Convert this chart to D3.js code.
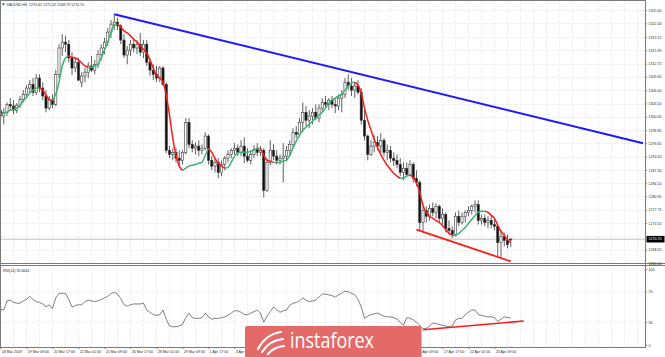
<!DOCTYPE html>
<html><head><meta charset="utf-8">
<script src="https://cdn.jsdelivr.net/npm/d3@7"></script>
<style>html,body{margin:0;padding:0;background:#fff;overflow:hidden}svg{display:block}</style>
</head><body><svg id="c" width="665" height="357"></svg>
<script>
// ---------------- DATA (XAUUSD, H4) ----------------
const open = [1301.6,1300.2,1301.1,1303.0,1302.6,1301.6,1302.8,1304.2,1305.4,1306.9,
1307.8,1305.9,1309.3,1306.9,1305.0,1302.1,1304.0,1303.0,1310.2,1316.5,
1317.9,1317.4,1314.1,1311.7,1313.1,1308.3,1309.8,1310.7,1312.2,1311.2,
1312.6,1315.0,1316.5,1317.9,1320.3,1322.2,1322.7,1321.8,1318.4,1314.8,
1316.0,1317.4,1316.5,1317.4,1315.5,1317.4,1313.1,1311.2,1310.2,1309.3,
1311.7,1307.8,1292.0,1291.0,1291.5,1290.1,1289.6,1291.5,1298.7,1293.4,
1292.5,1293.0,1292.0,1292.5,1295.4,1289.6,1288.2,1289.1,1286.7,1288.6,
1290.1,1291.0,1292.0,1292.5,1291.5,1293.0,1290.6,1289.6,1291.0,1292.2,
1291.5,1292.0,1282.4,1289.1,1292.0,1290.6,1289.6,1290.1,1290.6,1292.0,
1293.4,1296.3,1295.8,1298.7,1301.1,1299.2,1300.2,1301.1,1299.7,1302.1,
1303.5,1303.0,1304.0,1303.0,1302.6,1304.5,1305.4,1308.3,1307.4,1306.4,
1307.4,1305.9,1299.2,1295.4,1291.0,1293.0,1293.9,1293.0,1294.4,1291.5,
1292.0,1290.1,1289.6,1288.6,1286.7,1287.7,1286.2,1288.6,1285.3,1284.3,
1274.7,1277.6,1276.2,1278.1,1277.1,1278.6,1275.7,1276.6,1273.3,1272.8,
1271.8,1276.2,1274.7,1276.2,1277.1,1277.6,1278.6,1279.0,1275.2,1275.7,
1274.7,1275.2,1274.2,1273.8,1269.9,1271.4,1270.4,1270.62];
const high = [1303.0,1302.1,1303.5,1304.5,1304.0,1303.3,1305.0,1306.4,1307.6,1308.8,
1309.3,1310.2,1310.2,1308.3,1306.4,1305.0,1305.4,1311.2,1317.4,1319.8,
1319.4,1318.4,1315.5,1314.1,1314.1,1310.7,1311.7,1313.1,1314.6,1313.6,
1316.0,1317.4,1318.9,1321.3,1323.2,1324.6,1323.7,1322.2,1319.8,1317.0,
1318.4,1318.9,1318.4,1320.1,1318.4,1318.4,1314.1,1312.6,1312.2,1312.2,
1312.2,1308.3,1293.0,1292.5,1292.5,1292.0,1292.0,1299.7,1299.7,1294.4,
1293.9,1294.4,1293.4,1296.3,1295.8,1290.6,1290.1,1290.1,1289.6,1290.6,
1292.0,1292.5,1293.7,1293.4,1294.4,1295.1,1292.5,1292.0,1293.2,1293.7,
1293.0,1292.5,1290.1,1294.4,1293.4,1292.0,1291.0,1293.7,1293.0,1294.4,
1297.3,1297.8,1299.7,1303.5,1302.6,1301.6,1302.1,1303.0,1303.0,1304.5,
1305.0,1304.5,1305.0,1304.5,1305.4,1306.4,1309.3,1310.2,1309.3,1308.3,
1308.8,1306.9,1302.1,1295.8,1294.4,1295.6,1295.4,1296.1,1294.9,1293.4,
1293.0,1291.5,1291.0,1290.1,1289.1,1289.1,1289.6,1289.1,1287.2,1284.8,
1278.6,1278.6,1279.0,1279.5,1279.3,1279.0,1278.1,1277.1,1275.2,1273.8,
1277.1,1277.6,1277.1,1277.6,1278.6,1279.0,1280.0,1280.0,1276.6,1276.6,
1276.2,1276.2,1275.7,1274.2,1272.8,1272.3,1271.8,1271.02];
const low = [1299.2,1298.2,1300.2,1301.6,1300.6,1300.9,1302.1,1303.5,1304.5,1305.9,
1305.0,1305.2,1305.9,1304.0,1301.1,1301.6,1302.1,1302.6,1309.3,1314.6,
1315.5,1313.1,1310.0,1310.7,1308.6,1307.1,1308.3,1309.3,1310.7,1310.2,
1311.7,1313.6,1315.0,1317.0,1318.9,1320.8,1320.8,1317.4,1314.1,1312.6,
1314.6,1315.5,1315.0,1314.6,1314.1,1312.2,1309.8,1308.8,1308.3,1308.3,
1307.4,1291.3,1290.1,1289.6,1289.1,1288.2,1288.6,1291.0,1292.5,1291.5,
1291.0,1290.6,1291.0,1292.0,1288.6,1287.2,1286.7,1285.3,1285.8,1287.2,
1289.1,1290.1,1291.0,1290.6,1290.6,1288.9,1289.1,1288.6,1290.1,1290.6,
1290.6,1280.7,1282.0,1288.4,1289.6,1288.6,1288.6,1284.3,1289.6,1290.6,
1292.5,1294.9,1295.4,1296.3,1297.8,1297.3,1298.2,1299.2,1298.7,1301.1,
1302.1,1301.6,1302.1,1300.9,1301.6,1301.1,1304.5,1306.4,1305.0,1304.5,
1305.4,1298.2,1294.4,1289.6,1290.6,1291.5,1292.0,1291.5,1290.6,1289.6,
1289.1,1288.2,1287.7,1285.8,1284.8,1285.8,1285.8,1284.3,1283.4,1272.8,
1272.3,1274.7,1275.2,1276.2,1275.7,1274.7,1274.2,1272.3,1271.8,1270.9,
1271.4,1273.8,1274.2,1274.7,1276.2,1276.6,1277.1,1274.2,1274.2,1273.8,
1273.3,1273.3,1272.8,1266.3,1266.3,1269.0,1268.5,1268.79];
const close = [1300.2,1301.1,1303.0,1302.6,1301.6,1302.8,1304.2,1305.4,1306.9,1307.8,
1305.9,1309.3,1306.9,1305.0,1302.1,1304.0,1303.0,1310.2,1316.5,1317.9,
1317.4,1314.1,1311.7,1313.1,1308.8,1309.8,1310.7,1312.2,1311.2,1312.6,
1315.0,1316.5,1317.9,1320.3,1322.2,1322.7,1321.8,1318.4,1314.8,1316.0,
1317.4,1316.5,1317.4,1315.5,1317.4,1313.1,1311.2,1310.2,1309.3,1311.7,
1307.8,1292.0,1291.0,1291.5,1290.1,1289.6,1291.5,1298.7,1293.4,1292.5,
1293.0,1292.0,1292.5,1295.4,1289.6,1288.2,1289.1,1286.7,1288.6,1290.1,
1291.0,1292.0,1292.5,1291.5,1293.0,1290.6,1289.6,1291.0,1292.2,1291.5,
1292.0,1282.4,1289.1,1292.0,1290.6,1289.6,1290.1,1290.6,1292.0,1293.4,
1296.3,1295.8,1298.7,1301.1,1299.2,1300.2,1301.1,1299.7,1302.1,1303.5,
1303.0,1304.0,1303.0,1302.6,1304.5,1305.4,1308.3,1307.4,1306.4,1307.4,
1305.9,1299.2,1295.4,1291.0,1293.0,1293.9,1293.0,1294.4,1291.5,1292.0,
1290.1,1289.6,1288.6,1286.7,1287.7,1286.2,1288.6,1285.3,1284.3,1274.7,
1277.6,1276.2,1278.1,1277.1,1278.6,1275.7,1276.6,1273.3,1272.8,1271.8,
1276.2,1274.7,1276.2,1277.1,1277.6,1278.6,1279.0,1275.2,1275.7,1274.7,
1275.2,1274.2,1273.8,1269.9,1271.4,1270.4,1269.4,1270.70];
// moving average drawn green when rising, red when falling
const maLine = [1300.6,1300.9,1301.1,1301.6,1301.8,1302.1,1302.8,1303.8,1304.7,1305.7,
1306.4,1306.9,1306.9,1306.4,1305.2,1304.2,1304.0,1305.4,1308.3,1312.2,
1314.1,1314.6,1314.3,1314.1,1313.6,1312.9,1312.2,1311.9,1311.9,1312.2,
1312.6,1314.1,1316.0,1317.9,1320.3,1322.0,1322.2,1321.5,1320.6,1320.1,
1319.4,1318.6,1317.9,1317.0,1316.2,1315.3,1313.6,1311.7,1310.0,1309.3,
1308.3,1305.2,1300.4,1294.9,1290.8,1288.2,1287.2,1287.7,1288.2,1288.4,
1288.6,1288.9,1289.1,1290.8,1292.5,1291.5,1290.1,1288.9,1288.2,1287.7,
1287.9,1289.1,1290.6,1291.3,1291.5,1291.5,1291.5,1291.8,1292.0,1292.5,
1292.5,1290.8,1289.6,1289.4,1289.1,1289.1,1289.1,1289.4,1289.6,1290.8,
1292.5,1294.2,1295.6,1296.8,1297.5,1298.2,1299.0,1299.7,1300.4,1301.1,
1302.1,1303.3,1304.0,1304.5,1305.0,1305.4,1306.4,1307.4,1308.1,1308.3,
1307.6,1305.7,1302.1,1299.2,1296.8,1294.6,1292.7,1291.0,1289.6,1288.4,
1287.4,1286.5,1285.8,1285.3,1285.3,1285.8,1286.0,1285.5,1284.1,1281.9,
1278.8,1277.1,1276.2,1275.7,1275.2,1274.7,1274.0,1273.0,1272.1,1271.6,
1271.6,1272.1,1272.8,1273.5,1274.5,1275.4,1276.4,1277.1,1277.4,1277.4,
1277.1,1276.4,1275.7,1274.0,1272.6,1271.6,1270.6,1269.9];
const rsi = [47,46,58,59,56,55,55,58,60,64,
60,57,56,54,50,53,48,62,68,68,
68,60,50,52,53,53,57,59,58,57,
58,60,62,64,68,69,67,61,53,51,
53,54,54,54,55,46,43,40,39,40,
46,34,25,24,24,25,27,36,42,36,
35,35,36,42,37,34,35,35,36,37,
39,42,45,45,43,40,40,42,44,46,
42,30,38,44,50,46,43,45,46,52,
55,56,58,62,59,57,58,59,63,67,
67,66,65,63,66,68,71,70,68,66,
60,50,35,38,40,41,42,40,38,37,
37,36,34,30,26,36,35,33,30,26,
21,22,25,29,28,27,26,25,24,25,
33,35,35,40,43,46,46,40,39,38,
37,37,36,31,34,37,36,35.66];
const priceTicks = [1325.60,1322.40,1319.15,1315.95,1312.75,1309.60,1306.40,1303.20,1300.05,1296.85,
1293.65,1290.50,1287.30,1284.10,1280.95,1277.75,1274.55,1271.35,1268.20,1265.00];
const rsiTicks = [100,70,30,0];
const rsiLevels = [70,30];
const dateTickBars = [0,8,16,24,32,40,48,56,64,72,80,88,96,104,112,120,128,136,144,152];
const dateTickLabels = ["18 Mar 2019","19 Mar 09:00","20 Mar 17:00","22 Mar 01:00","25 Mar 09:00",
"26 Mar 17:00","28 Mar 01:00","29 Mar 09:00","1 Apr 17:00","3 Apr 01:00","4 Apr 09:00",
"5 Apr 17:00","9 Apr 01:00","10 Apr 09:00","11 Apr 17:00","15 Apr 01:00","16 Apr 09:00",
"17 Apr 17:00","22 Apr 01:00","23 Apr 09:00"];
const resistanceLine = [[35,1324.6],[197.7,1293.7]];
const supportLine = [[128,1273.0],[157,1265.4]];
const rsiSupportLine = [[130,20],[161,31.5]];
const titleText = "XAUUSD,H4  1270.62 1271.02 1268.79 1270.70";
const rsiTitle = "RSI(14) 35.6644";
const lastPrice = 1270.70;
const watermark = "instaforex";

// ---------------- LAYOUT ----------------
const svg = d3.select('#c');
const R = 645.5, mainTop = 0.5, mainBot = 263.5, rsiTop = 265.5, rsiBot = 347.5;
const nBars = 198;
const x = d3.scaleLinear().domain([0, nBars]).range([0.5, 0.5 + nBars * 3.25]);
const y = d3.scaleLinear().domain([1265.0, 1325.6]).range([263, 10]);
const yr = d3.scaleLinear().domain([0, 100]).range([345, 269]);
const FONT = "'Liberation Sans', Arial, sans-serif";
const TXT = "#2a2a2a";
const WM = {x0: 245, x1: 421.5, y0: 326};

const defs = svg.append('defs');
defs.append('clipPath').attr('id','cm').append('rect').attr('x',1).attr('y',1).attr('width',R-1).attr('height',mainBot-1);
defs.append('clipPath').attr('id','cr').append('rect').attr('x',1).attr('y',rsiTop+0.5).attr('width',R-1).attr('height',rsiBot-rsiTop-1);

const grid = svg.append('g').attr('stroke','#cfcfcf').attr('stroke-width',0.6).attr('stroke-dasharray','1,1.6');
const vBars = d3.range(0, nBars, 4);
grid.selectAll('line.vm').data(vBars).join('line').attr('class','vm')
  .attr('x1',d=>x(d)).attr('x2',d=>x(d)).attr('y1',mainTop).attr('y2',mainBot);
grid.selectAll('line.vr').data(vBars).join('line').attr('class','vr')
  .attr('x1',d=>x(d)).attr('x2',d=>x(d)).attr('y1',rsiTop).attr('y2',rsiBot);
grid.selectAll('line.hm').data(priceTicks).join('line').attr('class','hm')
  .attr('x1',1).attr('x2',R).attr('y1',d=>Math.round(y(d))+0.5).attr('y2',d=>Math.round(y(d))+0.5);
grid.selectAll('line.hr').data(rsiLevels).join('line').attr('class','hr')
  .attr('x1',1).attr('x2',R).attr('y1',d=>yr(d)).attr('y2',d=>yr(d));

// bid line
svg.append('line').attr('x1',1).attr('x2',R).attr('y1',y(lastPrice)).attr('y2',y(lastPrice))
  .attr('stroke','#a8a8a8').attr('stroke-width',0.7);

// candles
const gM = svg.append('g').attr('clip-path','url(#cm)');
const idx = d3.range(open.length);
gM.selectAll('line.w').data(idx).join('line').attr('class','w')
  .attr('x1',i=>x(i)).attr('x2',i=>x(i)).attr('y1',i=>y(high[i])).attr('y2',i=>y(low[i]))
  .attr('stroke','#3a3a3a').attr('stroke-width',0.8);
gM.selectAll('rect.b').data(idx).join('rect').attr('class','b')
  .attr('x',i=>x(i)-1.1).attr('width',2.2)
  .attr('y',i=>y(Math.max(open[i],close[i])))
  .attr('height',i=>Math.max(0.7, Math.abs(y(open[i])-y(close[i]))))
  .attr('fill',i=>close[i]>=open[i]?'#fff':'#111')
  .attr('stroke','#3a3a3a').attr('stroke-width',0.6);

// MA coloured by slope
const segs = [];
for (let i = 1; i < maLine.length; i++) {
  const up = maLine[i] >= maLine[i-1];
  const last = segs[segs.length-1];
  if (last && last.up === up) last.pts.push(i);
  else segs.push({up, pts:[i-1, i]});
}
const maGen = d3.line().x(i=>x(i)).y(i=>y(maLine[i])).curve(d3.curveMonotoneX);
gM.selectAll('path.ma').data(segs).join('path').attr('class','ma')
  .attr('d',s=>maGen(s.pts)).attr('fill','none')
  .attr('stroke',s=>s.up?'#3cb371':'#ff1a1a').attr('stroke-width',1.5);

// trend lines
const tl = d3.line().x(d=>x(d[0])).y(d=>y(d[1]));
gM.append('path').attr('d',tl(resistanceLine)).attr('stroke','#1a1aff').attr('stroke-width',2).attr('fill','none');
gM.append('path').attr('d',tl(supportLine)).attr('stroke','#ff1a1a').attr('stroke-width',1.8).attr('fill','none');

// RSI
const gR = svg.append('g').attr('clip-path','url(#cr)');
gR.append('path').attr('d', d3.line().x((d,i)=>x(i)).y(d=>yr(d))(rsi))
  .attr('fill','none').attr('stroke','#4a4a4a').attr('stroke-width',0.7);
gR.append('path').attr('d', d3.line().x(d=>x(d[0])).y(d=>yr(d[1]))(rsiSupportLine))
  .attr('stroke','#ff1a1a').attr('stroke-width',1.6).attr('fill','none');

// frames
const frame = svg.append('g').attr('fill','none').attr('stroke','#7a7a7a').attr('stroke-width',1);
frame.append('line').attr('x1',0).attr('x2',665).attr('y1',mainBot).attr('y2',mainBot);
frame.append('line').attr('x1',0).attr('x2',665).attr('y1',rsiTop).attr('y2',rsiTop);
frame.append('line').attr('x1',0.5).attr('x2',0.5).attr('y1',0).attr('y2',rsiBot);
frame.append('line').attr('x1',R).attr('x2',R).attr('y1',0).attr('y2',rsiBot);
frame.append('line').attr('x1',0).attr('x2',R).attr('y1',0.5).attr('y2',0.5);
frame.append('line').attr('x1',0).attr('x2',R).attr('y1',rsiBot).attr('y2',rsiBot);

// price axis
const shownTicks = priceTicks.filter(v => Math.abs(y(v) - y(lastPrice)) > 4);
const axP = svg.append('g').attr('transform',`translate(${R},0)`)
  .call(d3.axisRight(y).tickValues(shownTicks).tickFormat(d3.format('.2f')).tickSize(1.5).tickPadding(1.5));
axP.select('.domain').remove();
axP.selectAll('line').attr('stroke','#7a7a7a');
axP.selectAll('text').attr('font-family',FONT).attr('font-size',3.6).attr('fill',TXT);

// last price box
const lp = svg.append('g');
lp.append('rect').attr('x',R+1).attr('y',y(lastPrice)-3.3).attr('width',665-R-1.5).attr('height',6.6).attr('fill','#000');
lp.append('text').attr('x',R+3).attr('y',y(lastPrice)).attr('dy','0.35em')
  .attr('font-family',FONT).attr('font-size',3.6).attr('fill','#fff').text(d3.format('.2f')(lastPrice));

// rsi axis
const axR = svg.append('g').attr('transform',`translate(${R},0)`)
  .call(d3.axisRight(yr).tickValues(rsiTicks).tickFormat(d3.format('d')).tickSize(1.5).tickPadding(1.5));
axR.select('.domain').remove();
axR.selectAll('line').attr('stroke','#7a7a7a');
axR.selectAll('text').attr('font-family',FONT).attr('font-size',3.6).attr('fill',TXT);

// date axis (labels entirely hidden behind the watermark are not drawn)
const approxW = s => s.length * 1.95;
const visibleBars = dateTickBars.filter((b,i) => !(x(b) >= WM.x0 && x(b) + approxW(dateTickLabels[i]) <= WM.x1));
const axD = svg.append('g').attr('transform',`translate(0,${rsiBot})`)
  .call(d3.axisBottom(x).tickValues(visibleBars)
    .tickFormat(d => dateTickLabels[dateTickBars.indexOf(d)]).tickSize(1.5).tickPadding(1.2));
axD.select('.domain').remove();
axD.selectAll('line').attr('stroke','#7a7a7a');
axD.selectAll('text').attr('font-family',FONT).attr('font-size',3.6).attr('fill',TXT)
  .attr('text-anchor','start').attr('dx',0.8);

// titles
svg.append('path').attr('d','M2,3.6 L5,3.6 L3.5,5.4 Z').attr('fill','#333');
svg.append('text').attr('x',6.5).attr('y',5.8).attr('font-family',FONT).attr('font-size',3.6).attr('fill',TXT)
  .attr('xml:space','preserve').text(titleText);
svg.append('text').attr('x',3).attr('y',271.5).attr('font-family',FONT).attr('font-size',3.6).attr('fill',TXT).text(rsiTitle);

// watermark
const wm = svg.append('g');
wm.append('rect').attr('x',WM.x0).attr('y',WM.y0).attr('width',WM.x1-WM.x0).attr('height',33).attr('rx',2).attr('fill','#e46a6a');
const ic = wm.append('g').attr('fill','none').attr('stroke','#fff').attr('stroke-width',2.2).attr('stroke-linecap','round');
ic.append('path').attr('d','M258,349 Q266,334 281,332');
ic.append('path').attr('d','M262,352 Q270,340 283,339');
ic.append('path').attr('d','M268,354 Q274,347 284,346');
wm.append('text').attr('x',290).attr('y',347.5).attr('font-family',"'Open Sans', 'Liberation Sans', sans-serif")
  .attr('font-size',21).attr('fill','#fff').attr('textLength',84).attr('lengthAdjust','spacingAndGlyphs').text(watermark);
</script></body></html>
